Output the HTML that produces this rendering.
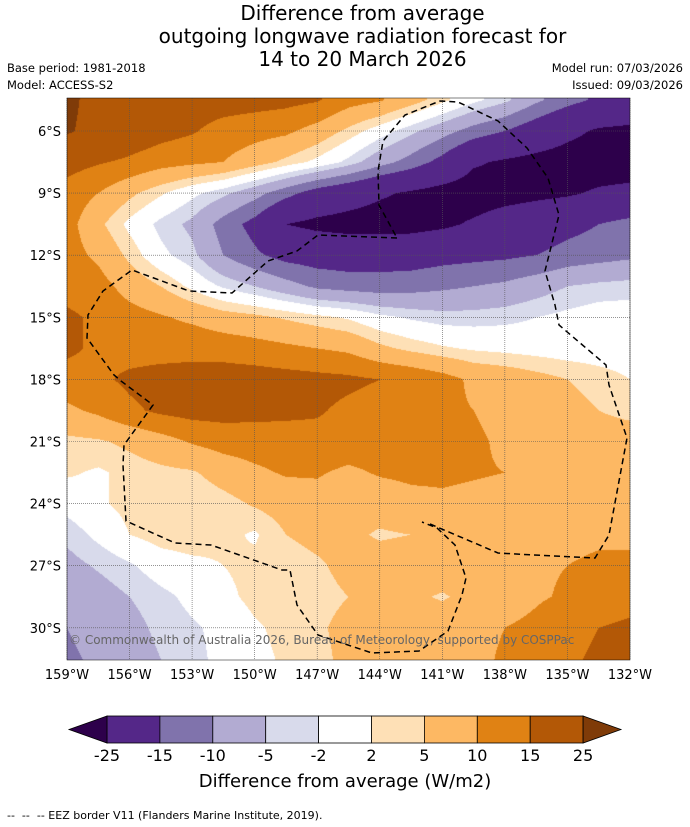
<!DOCTYPE html>
<html><head><meta charset="utf-8"><style>
body{margin:0;background:#fff;font-family:"DejaVu Sans",sans-serif;}
#wrap{position:relative;width:690px;height:827px;overflow:hidden;background:#fff}
.t{position:absolute;white-space:nowrap;color:#000}
</style></head><body>
<div id="wrap">
<div class="t" style="left:0;width:725px;text-align:center;top:2px;font-size:20px;line-height:23px">Difference from average<br>outgoing longwave radiation forecast for<br>14 to 20 March 2026</div>
<div class="t" style="left:7px;top:61px;font-size:11.5px">Base period: 1981-2018</div>
<div class="t" style="left:7px;top:78px;font-size:11.5px">Model: ACCESS-S2</div>
<div class="t" style="right:7px;top:61px;font-size:11.5px">Model run: 07/03/2026</div>
<div class="t" style="right:7px;top:78px;font-size:11.5px">Issued: 09/03/2026</div>
<canvas id="map" width="563" height="562" style="position:absolute;left:67px;top:98px"></canvas>
<svg id="ov" width="690" height="827" style="position:absolute;left:0;top:0"></svg>
<div class="t" style="left:69px;top:633px;font-size:12px;color:#666">© Commonwealth of Australia 2026, Bureau of Meteorology, supported by COSPPac</div>
<div class="t" style="left:0;width:690px;text-align:center;top:771px;font-size:18px">Difference from average (W/m2)</div>
<div class="t" style="left:7px;top:809px;font-size:11px">-- &nbsp;-- &nbsp;-- EEZ border V11 (Flanders Marine Institute, 2019).</div>
</div>
<script>
const lons=[159,157.5,156,154.5,153,151.5,150,148.5,147,145.5,144,142.5,141,139.5,138,136.5,135,133.5,132];
const lats=[4.5,6,7.5,9,10.5,12,13.5,15,16.5,18,19.5,21,22.5,24,25.5,27,28.5,30,31.5];
const grid=[
[27,22,20,19,18,17.5,17,16.5,15.5,12,10.5,7,3,-1,-4,-9,-13,-16,-17],
[26,22,19,17,15.5,13,12,11,8,4,0,-4,-8,-12,-15,-19,-23,-26,-27],
[17,15.5,14,12,11,10,7,4,1,-3,-8,-12,-17,-24,-26,-27.5,-28.5,-29,-29],
[13,10,6,2.5,-1,-4,-8,-13,-18,-21,-24,-26,-28,-29,-28,-27,-26,-24,-23],
[12,6,1,-3,-6,-12,-17,-25,-27,-28,-28.5,-28,-26.5,-24,-21,-19,-17,-15,-13],
[12,9,4,-1,-4,-10,-14,-17,-18,-18.5,-18,-18,-17,-16.5,-16,-15,-13,-12,-11],
[13,12,8,5,1,-2.5,-5,-8,-11,-12,-12.5,-12,-11,-10,-9,-7,-5,-4,-3.5],
[16,14,12,10.5,9,7,6,4.5,3,1.5,-1,-2.5,-3.5,-3.5,-3,-2,-1,0,0],
[16,14,13,13,13.5,13,12,11,10,9,6,4,2.5,1.5,1,0.5,0,0,0],
[13,14,16,17,17,17.5,17.5,17,16.5,16,15,14,12,9,8,6.5,5,3.5,2],
[9,11,14,16,17,17,16.5,16,15.5,14,13,12,11,10,8,7,6.5,5,4],
[4,4.5,6,8,10.5,12,12.5,13,13.5,13,13,12,11.5,11,9,8,7.5,7,7],
[2.5,1.5,3,4,4.5,7,9,10.5,10.5,9,10.5,11,11,10.5,10,9,8.5,8,8],
[-0.5,1.5,3,3.5,2,3.5,5.5,7,8,6,7,8.5,9,8.5,8,8,8,8.5,9],
[-4,-1,2,3.5,4,3,1.5,5,6,6,4.5,5,6.5,7,7.5,8,8.5,9,9.5],
[-6.5,-4.5,-2.5,0,1,2,3,3.5,4.5,6,7,7.5,8,8.5,9,9.5,10,11,10.5],
[-8,-7,-5,-3,-1,1,3,3.5,4,5,6.5,6,4.5,6.5,8,9.5,10.5,12,13],
[-10,-8,-6.5,-4,-2.5,-1,1.5,3,4.5,6,7,7.5,8,9,10,11,13,15,16],
[-11,-9,-7.5,-5,-3,-1,1,2.5,4,6,7,7.5,8,9,10.5,12,14,16,17]
];
const levels=[-25,-15,-10,-5,-2,2,5,10,15,25];
const colors=["#2d004b","#542788","#8073ac","#b2abd2","#d8daeb","#ffffff","#fee0b6","#fdb863","#e08214","#b35806","#7f3b08"];
const lonTicks=[159,156,153,150,147,144,141,138,135,132];
const latTicks=[6,9,12,15,18,21,24,27,30];
const X0=67,PXD=20.85,Y0=131,PYD=20.7;
const xOf=lon=>X0+(159-lon)*PXD;
const yOf=lat=>Y0+(lat-6)*PYD;
function hex(c){return [parseInt(c.substr(1,2),16),parseInt(c.substr(3,2),16),parseInt(c.substr(5,2),16)];}
function val(lon,lat){
  let fi=(159-lon)/1.5, fj=(lat-4.5)/1.5;
  fi=Math.max(0,Math.min(lons.length-1.001,fi)); fj=Math.max(0,Math.min(lats.length-1.001,fj));
  const i=Math.floor(fi),j=Math.floor(fj),a=fi-i,b=fj-j;
  return grid[j][i]*(1-a)*(1-b)+grid[j][i+1]*a*(1-b)+grid[j+1][i]*(1-a)*b+grid[j+1][i+1]*a*b;
}
const cv=document.getElementById('map'),ctx=cv.getContext('2d');
const img=ctx.createImageData(cv.width,cv.height);
const rgb=colors.map(hex);
for(let py=0;py<cv.height;py++){for(let px=0;px<cv.width;px++){
  const lon=159-(px+0.5)/PXD, lat=6+(py+98+0.5-Y0)/PYD;
  const v=val(lon,lat);let k=0;while(k<levels.length&&v>=levels[k])k++;
  const c=rgb[k],o=(py*cv.width+px)*4;img.data[o]=c[0];img.data[o+1]=c[1];img.data[o+2]=c[2];img.data[o+3]=255;}}
ctx.putImageData(img,0,0);
const NS="http://www.w3.org/2000/svg",sv=document.getElementById('ov');
function mk(tag,attrs){const e=document.createElementNS(NS,tag);for(const k in attrs)e.setAttribute(k,attrs[k]);sv.appendChild(e);return e;}
lonTicks.forEach(lon=>{
  const l=mk('line',{x1:xOf(lon),x2:xOf(lon),y1:98,y2:660,stroke:'#555','stroke-width':0.6,'stroke-dasharray':'1,1'});
  
  
  const t=mk('text',{x:xOf(lon),y:679,'font-size':13,'text-anchor':'middle','font-family':'DejaVu Sans, sans-serif'});
  t.textContent=lon+'°W';
  
  
});
latTicks.forEach(lat=>{
  const l=mk('line',{x1:67,x2:630,y1:yOf(lat),y2:yOf(lat),stroke:'#555','stroke-width':0.6,'stroke-dasharray':'1,1'});
  
  
  const t=mk('text',{x:61,y:yOf(lat)+5,'font-size':13,'text-anchor':'end','font-family':'DejaVu Sans, sans-serif'});
  t.textContent=lat+'°S';
  
  
});
const eez1=mk('path',{d:'M397,238 L318,235 L297,251 L268,261 L232,293 L189,291 L132,270 L103,291 L88,315 L87,338 L114,375 L121,381 L153,405 L124,445 L123,465 L126,521 L175,543 L211,545 L282,570 L290,570 L297,605 L318,635 L372,653 L419,651 L448,631 L462,595 L466,578 L455,545 L437,528 L422,522',fill:'none',stroke:'#000','stroke-width':1.5,'stroke-dasharray':'6,4'});


const eez2=mk('path',{d:'M430,524 L498,553 L534,555 L595,558 L609,535 L627,438 L609,385 L606,365 L559,325 L555,305 L545,271 L559,215 L548,178 L527,148 L498,121 L458,102 L440,101 L405,115 L383,141 L378,171 L379,205 L397,238',fill:'none',stroke:'#000','stroke-width':1.5,'stroke-dasharray':'6,4'});


const fr=mk('rect',{x:67,y:98,width:563,height:562,fill:'none',stroke:'#000','stroke-width':0.5});


const CB0=107,CBW=52.9,CBY=716,CBH=27;
for(let i=0;i<levels.length-1;i++){
  const r=mk('rect',{x:CB0+i*CBW,y:CBY,width:CBW,height:CBH,fill:colors[i+1],stroke:'#000','stroke-width':0.8});
  
  
}
const tl=mk('polygon',{points:`${CB0},${CBY} 69,${CBY+CBH/2} ${CB0},${CBY+CBH}`,fill:colors[0],stroke:'#000','stroke-width':0.8});


const xr=CB0+(levels.length-1)*CBW;
const tr=mk('polygon',{points:`${xr},${CBY} 621,${CBY+CBH/2} ${xr},${CBY+CBH}`,fill:colors[colors.length-1],stroke:'#000','stroke-width':0.8});


levels.forEach((v,i)=>{
  const t=mk('text',{x:CB0+i*CBW,y:761,'font-size':16,'text-anchor':'middle','font-family':'DejaVu Sans, sans-serif'});
  t.textContent=v;
  
  
});
</script>
</body></html>
